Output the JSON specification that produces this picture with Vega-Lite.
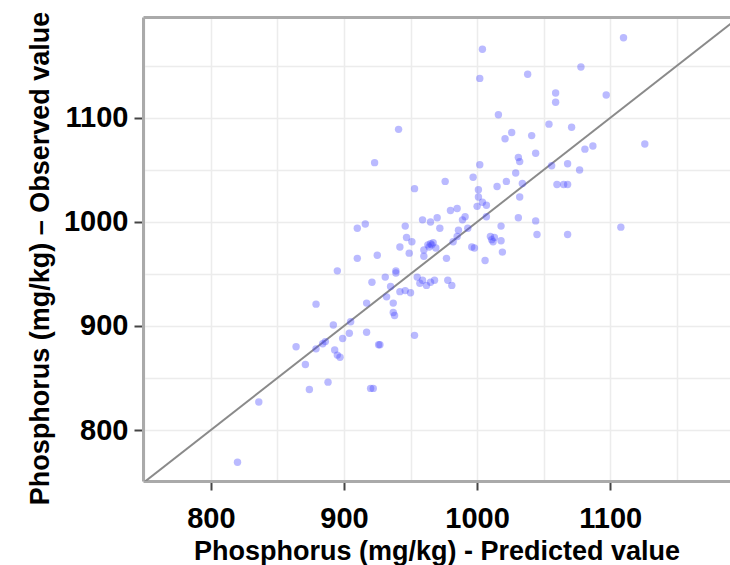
{
  "$schema": "https://vega.github.io/schema/vega-lite/v6.json",
  "width": 587,
  "height": 464,
  "autosize": {"type": "none"},
  "padding": {"left": 143, "top": 17, "right": 0, "bottom": 84},
  "background": "white",
  "config": {
    "view": {"stroke": null},
    "axis": {
      "labelFont": "Liberation Sans",
      "labelFontWeight": "bold",
      "labelFontSize": 29,
      "labelColor": "#000000",
      "titleFont": "Liberation Sans",
      "titleFontWeight": "bold",
      "titleFontSize": 27,
      "titleColor": "#000000",
      "domainColor": "#aaaaaa",
      "domainWidth": 3,
      "tickColor": "#444444",
      "tickWidth": 2,
      "tickSize": 9,
      "gridColor": "#ececec",
      "gridWidth": 1.5
    }
  },
  "datasets": {
    "diag": [{"v": 700}, {"v": 1250}],
    "points": [
      {"pred": 1110, "obs": 1177}, {"pred": 1004, "obs": 1166}, {"pred": 1078, "obs": 1149}, {"pred": 1002, "obs": 1138},
      {"pred": 1038, "obs": 1142}, {"pred": 1059, "obs": 1124}, {"pred": 1059, "obs": 1115}, {"pred": 1097, "obs": 1122},
      {"pred": 1016, "obs": 1103}, {"pred": 941, "obs": 1089}, {"pred": 1054, "obs": 1094}, {"pred": 1071, "obs": 1091},
      {"pred": 1126, "obs": 1075}, {"pred": 1026, "obs": 1086}, {"pred": 1021, "obs": 1080}, {"pred": 1041, "obs": 1083},
      {"pred": 1044, "obs": 1066}, {"pred": 1081, "obs": 1070}, {"pred": 1087, "obs": 1073}, {"pred": 1031, "obs": 1062},
      {"pred": 1032, "obs": 1058}, {"pred": 1002, "obs": 1055}, {"pred": 923, "obs": 1057}, {"pred": 1056, "obs": 1054},
      {"pred": 1068, "obs": 1056}, {"pred": 1077, "obs": 1050}, {"pred": 1029, "obs": 1047}, {"pred": 997, "obs": 1043},
      {"pred": 976, "obs": 1039}, {"pred": 1022, "obs": 1039}, {"pred": 1034, "obs": 1037}, {"pred": 1060, "obs": 1036},
      {"pred": 1065, "obs": 1036}, {"pred": 1068, "obs": 1036}, {"pred": 953, "obs": 1032}, {"pred": 1015, "obs": 1034},
      {"pred": 1001, "obs": 1031}, {"pred": 1001, "obs": 1024}, {"pred": 1032, "obs": 1024}, {"pred": 1004, "obs": 1019},
      {"pred": 1007, "obs": 1016}, {"pred": 980, "obs": 1011}, {"pred": 985, "obs": 1013}, {"pred": 1007, "obs": 1005},
      {"pred": 1031, "obs": 1004}, {"pred": 1044, "obs": 1001}, {"pred": 1108, "obs": 995}, {"pred": 959, "obs": 1002},
      {"pred": 965, "obs": 1000}, {"pred": 970, "obs": 1004}, {"pred": 991, "obs": 1005}, {"pred": 989, "obs": 1002},
      {"pred": 946, "obs": 996}, {"pred": 916, "obs": 998}, {"pred": 910, "obs": 994}, {"pred": 972, "obs": 994},
      {"pred": 986, "obs": 992}, {"pred": 993, "obs": 994}, {"pred": 1045, "obs": 988}, {"pred": 1068, "obs": 988},
      {"pred": 1010, "obs": 986}, {"pred": 1013, "obs": 985}, {"pred": 1012, "obs": 981}, {"pred": 1018, "obs": 982},
      {"pred": 1018, "obs": 996}, {"pred": 947, "obs": 985}, {"pred": 951, "obs": 981}, {"pred": 965, "obs": 979},
      {"pred": 966, "obs": 978}, {"pred": 964, "obs": 976}, {"pred": 982, "obs": 981}, {"pred": 996, "obs": 976},
      {"pred": 998, "obs": 975}, {"pred": 942, "obs": 976}, {"pred": 1019, "obs": 971}, {"pred": 1006, "obs": 963},
      {"pred": 977, "obs": 965}, {"pred": 960, "obs": 967}, {"pred": 969, "obs": 975}, {"pred": 949, "obs": 970},
      {"pred": 925, "obs": 968}, {"pred": 910, "obs": 965}, {"pred": 939, "obs": 953}, {"pred": 895, "obs": 953},
      {"pred": 931, "obs": 947}, {"pred": 939, "obs": 951}, {"pred": 935, "obs": 938}, {"pred": 932, "obs": 928},
      {"pred": 942, "obs": 933}, {"pred": 950, "obs": 932}, {"pred": 937, "obs": 922}, {"pred": 937, "obs": 913},
      {"pred": 938, "obs": 910}, {"pred": 953, "obs": 891}, {"pred": 927, "obs": 882}, {"pred": 955, "obs": 947},
      {"pred": 959, "obs": 944}, {"pred": 965, "obs": 942}, {"pred": 968, "obs": 944}, {"pred": 957, "obs": 941},
      {"pred": 978, "obs": 944}, {"pred": 981, "obs": 939}, {"pred": 921, "obs": 942}, {"pred": 917, "obs": 922},
      {"pred": 879, "obs": 921}, {"pred": 892, "obs": 901}, {"pred": 905, "obs": 904}, {"pred": 899, "obs": 888},
      {"pred": 904, "obs": 893}, {"pred": 917, "obs": 894}, {"pred": 926, "obs": 882}, {"pred": 864, "obs": 880},
      {"pred": 879, "obs": 878}, {"pred": 884, "obs": 883}, {"pred": 886, "obs": 885}, {"pred": 893, "obs": 877},
      {"pred": 895, "obs": 872}, {"pred": 897, "obs": 870}, {"pred": 871, "obs": 863}, {"pred": 874, "obs": 839},
      {"pred": 888, "obs": 846}, {"pred": 920, "obs": 840}, {"pred": 922, "obs": 840}, {"pred": 836, "obs": 827},
      {"pred": 820, "obs": 769}, {"pred": 963, "obs": 978}, {"pred": 967, "obs": 980}, {"pred": 1011, "obs": 983},
      {"pred": 960, "obs": 973}, {"pred": 962, "obs": 939}, {"pred": 946, "obs": 934}, {"pred": 1000, "obs": 1015},
      {"pred": 985, "obs": 986}
    ]
  },
  "layer": [
    {
      "data": {"name": "diag"},
      "mark": {"type": "line", "color": "#8a8a8a", "strokeWidth": 2, "clip": true},
      "encoding": {
        "x": {
          "field": "v", "type": "quantitative",
          "scale": {"domain": [749, 1190], "nice": false, "zero": false},
          "axis": {
            "title": "Phosphorus (mg/kg) - Predicted value",
            "values": [750, 800, 850, 900, 950, 1000, 1050, 1100, 1150],
            "labelExpr": "datum.value % 100 === 0 ? datum.label : ''",
            "tickOpacity": {"condition": {"test": "datum.value % 100 === 0", "value": 1}, "value": 0},
            "labelPadding": 14,
            "titlePadding": 5,
            "format": "d"
          }
        },
        "y": {
          "field": "v", "type": "quantitative",
          "scale": {"domain": [751, 1197], "nice": false, "zero": false},
          "axis": {
            "title": "Phosphorus (mg/kg) – Observed value",
            "values": [800, 850, 900, 950, 1000, 1050, 1100, 1150],
            "labelExpr": "datum.value % 100 === 0 ? datum.label : ''",
            "tickOpacity": {"condition": {"test": "datum.value % 100 === 0", "value": 1}, "value": 0},
            "labelPadding": 6,
            "titlePadding": 9,
            "titleY": 241,
            "format": "d"
          }
        }
      }
    },
    {
      "data": {"name": "points"},
      "mark": {"type": "circle", "color": "#4a4aff", "opacity": 0.38, "size": 55},
      "encoding": {
        "x": {
          "field": "pred", "type": "quantitative",
          "scale": {"domain": [749, 1190], "nice": false, "zero": false},
          "axis": {"orient": "top", "labels": false, "ticks": false, "grid": false, "title": null, "domain": true}
        },
        "y": {
          "field": "obs", "type": "quantitative",
          "scale": {"domain": [751, 1197], "nice": false, "zero": false}
        }
      }
    }
  ],
  "resolve": {"axis": {"x": "independent"}}
}
